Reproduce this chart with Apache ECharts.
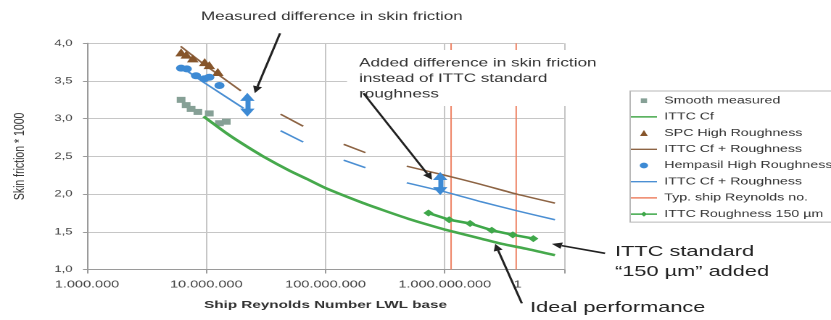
<!DOCTYPE html>
<html>
<head>
<meta charset="utf-8">
<title>Skin friction vs. ship Reynolds number</title>
<script src="https://cdn.jsdelivr.net/npm/echarts@6/dist/echarts.min.js"></script>
<style>
  html, body { margin: 0; padding: 0; background: #fff; overflow: hidden; }
  #stage { width: 831px; height: 320px; overflow: hidden; position: relative; }
  /* the chart is laid out narrow and widened horizontally */
  #chart { width: 573px; height: 320px; transform: scaleX(1.45026); transform-origin: 0 0; }
</style>
</head>
<body>
<div id="stage"><div id="chart"></div></div>
<script>
// ---- tick labels ----
const xTickLabels = ['1.000.000', '10.000.000', '100.000.000', '1.000.000.000', '10.000.000.000'];
const yTickLabels = ['1,0', '1,5', '2,0', '2,5', '3,0', '3,5', '4,0'];

// ---- series values: [Reynolds number, skin friction * 1000] ----
const smoothMeasured = [[6.15e6, 3.25], [6.78e6, 3.18], [7.46e6, 3.13], [8.5e6, 3.09], [1.06e7, 3.07], [1.29e7, 2.94], [1.47e7, 2.96]];
const ittcCf = [[9.5e6, 3.03], [1.5e7, 2.80], [2e7, 2.67], [3e7, 2.50], [5e7, 2.31], [7e7, 2.20], [1e8, 2.08],
                [2e8, 1.89], [3e8, 1.79], [5e8, 1.67], [7e8, 1.60], [1e9, 1.53], [2e9, 1.41], [3e9, 1.34],
                [5e9, 1.27], [8.4e9, 1.19]];
const spcHigh = [[6.15e6, 3.88], [6.8e6, 3.85], [7.7e6, 3.80], [9.7e6, 3.75], [1.06e7, 3.71], [1.25e7, 3.62]];
const spcFitSegments = [
  [[6.1e6, 3.96], [1e7, 3.70], [1.95e7, 3.37]],
  [[4.2e7, 3.06], [6.5e7, 2.90]],
  [[1.42e8, 2.66], [2.16e8, 2.55]],
  [[4.8e8, 2.37], [1e9, 2.25], [2e9, 2.13], [4e9, 2.00], [8.4e9, 1.88]]
];
const hempasilHigh = [[6.15e6, 3.67], [6.87e6, 3.66], [8.2e6, 3.57], [9.66e6, 3.53], [1.06e7, 3.55], [1.29e7, 3.44]];
const hempasilFitSegments = [
  [[6e6, 3.70], [1e7, 3.46], [2.05e7, 3.14]],
  [[4.2e7, 2.84], [6.5e7, 2.69]],
  [[1.42e8, 2.45], [2.16e8, 2.35]],
  [[4.8e8, 2.15], [1e9, 2.03], [2e9, 1.90], [4e9, 1.78], [8.4e9, 1.66]]
];
const shipReynolds = [1.13e9, 3.97e9];
const ittc150 = [[7.3e8, 1.75], [1.09e9, 1.66], [1.63e9, 1.61], [2.48e9, 1.52], [3.72e9, 1.46], [5.53e9, 1.41]];

// measured / added differences: [Reynolds number, upper, lower]
const measuredGap = [2.21e7, 3.29, 3.08];
const addedGap = [9.16e8, 2.24, 2.04];

const FONT = '"Liberation Sans", Arial, Helvetica, sans-serif';

// joins line pieces with an empty point so the line breaks between them
function gapped(segments) {
  const out = [];
  segments.forEach((seg, i) => {
    if (i > 0) out.push([seg[0][0], null]);
    seg.forEach(p => out.push(p));
  });
  return out;
}

const verticals = [];
shipReynolds.forEach((re, i) => {
  if (i > 0) verticals.push([re, null]);
  verticals.push([re, 1], [re, 4]);
});

// legend icons share a 20x10 frame (corner moves fix the frame)
const FRAME = 'M0 0M20 10';
const legendIcons = {
  square:   'path://' + FRAME + 'M7.6 2.4H12.4V7.6H7.6Z',
  triangle: 'path://' + FRAME + 'M10 1.6L13 8.2H7Z',
  circle:   'path://' + FRAME + 'M10 1.8A3.2 3.2 0 1 1 9.99 1.8Z',
  line:     'path://' + FRAME + 'M0 4.2H20V5.8H0Z',
  lineDiamond: 'path://' + FRAME + 'M0 4.2H20V5.8H0Z M10 2.2L12.4 5L10 7.8L7.6 5Z'
};

const chart = echarts.init(document.getElementById('chart'), null, { renderer: 'canvas', devicePixelRatio: 2 });

const gridColor = '#c6c6c6';
const axisColor = '#9a9a9a';

chart.setOption({
  animation: false,
  backgroundColor: '#fff',
  textStyle: { fontFamily: FONT },
  grid: { left: 59.3, right: 184.1, top: 43.3, bottom: 50.5 },
  xAxis: {
    type: 'log', logBase: 10, min: 1e6, max: 1e10,
    name: 'Ship Reynolds Number LWL base', nameLocation: 'middle', nameGap: 30,
    nameTextStyle: { fontFamily: FONT, fontWeight: 'bold', fontSize: 10.5, color: '#333' },
    axisLine: { show: true, lineStyle: { color: axisColor } },
    axisTick: { show: true, length: 4, lineStyle: { color: axisColor } },
    minorTick: { show: false },
    axisLabel: { fontFamily: FONT, fontSize: 10, color: '#444', margin: 10,
      formatter: v => xTickLabels[Math.round(Math.log10(v)) - 6] },
    splitLine: { show: true, lineStyle: { color: gridColor } }
  },
  yAxis: {
    type: 'value', min: 1, max: 4, interval: 0.5,
    name: 'Skin friction * 1000', nameLocation: 'middle', nameGap: 41, nameRotate: 90,
    nameTextStyle: { fontFamily: FONT, fontSize: 10.5, color: '#333' },
    axisLine: { show: true, lineStyle: { color: axisColor } },
    axisTick: { show: true, length: 2.8, lineStyle: { color: axisColor } },
    axisLabel: { fontFamily: FONT, fontSize: 9, color: '#444', margin: 10,
      formatter: v => yTickLabels[Math.round((v - 1) / 0.5)] },
    splitLine: { show: true, lineStyle: { color: gridColor } }
  },
  legend: {
    orient: 'vertical', left: 434.5, top: 91,
    padding: [3.7, 12, 2, 0.5],
    itemWidth: 18, itemHeight: 9, itemGap: 4.2,
    symbolKeepAspect: true,
    borderColor: '#b8b8b8', borderWidth: 1, backgroundColor: '#fff',
    textStyle: { fontFamily: FONT, fontSize: 9.8, lineHeight: 12, color: '#333' },
    formatter: name => name.trim(),
    data: [
      { name: 'Smooth measured', icon: legendIcons.square },
      { name: 'ITTC Cf', icon: legendIcons.line },
      { name: 'SPC High Roughness', icon: legendIcons.triangle },
      { name: 'ITTC Cf + Roughness', icon: legendIcons.line },
      { name: 'Hempasil High Roughness', icon: legendIcons.circle },
      { name: 'ITTC Cf + Roughness ', icon: legendIcons.line },
      { name: 'Typ. ship Reynolds no.', icon: legendIcons.line },
      { name: 'ITTC Roughness 150 µm', icon: legendIcons.lineDiamond }
    ]
  },
  series: [
    {
      name: 'Typ. ship Reynolds no.', type: 'line', data: verticals, symbol: 'none', z: 1,
      lineStyle: { color: '#ee8466', width: 1 }, itemStyle: { color: '#ee8466' }
    },
    {
      name: 'Smooth measured', type: 'scatter', data: smoothMeasured, symbol: 'rect', symbolSize: 6, z: 3,
      itemStyle: { color: '#86a096', opacity: 1 }
    },
    {
      name: 'ITTC Cf', type: 'line', data: ittcCf, symbol: 'none', smooth: 0.2, z: 4,
      lineStyle: { color: '#46a94c', width: 2.5 }, itemStyle: { color: '#46a94c' }
    },
    {
      name: 'SPC High Roughness', type: 'scatter', data: spcHigh, symbol: 'triangle', symbolSize: 8, z: 3,
      itemStyle: { color: '#86552b', opacity: 1 }
    },
    {
      name: 'ITTC Cf + Roughness', type: 'line', data: gapped(spcFitSegments), symbol: 'none',
      connectNulls: false, smooth: 0.2, z: 2,
      lineStyle: { color: '#8d6444', width: 1.5 }, itemStyle: { color: '#8d6444' }
    },
    {
      name: 'Hempasil High Roughness', type: 'scatter', data: hempasilHigh, symbol: 'circle', symbolSize: 7, z: 3,
      itemStyle: { color: '#3d8ad4', opacity: 1 }
    },
    {
      name: 'ITTC Cf + Roughness ', type: 'line', data: gapped(hempasilFitSegments), symbol: 'none',
      connectNulls: false, smooth: 0.2, z: 2,
      lineStyle: { color: '#4b8fd3', width: 1.5 }, itemStyle: { color: '#4b8fd3' },
      markLine: {
        silent: true, symbol: ['triangle', 'triangle'], symbolSize: [10, 8],
        label: { show: false },
        lineStyle: { color: '#3d8ad4', width: 3.5, type: 'solid' },
        emphasis: { disabled: true },
        data: [
          [{ coord: [measuredGap[0], measuredGap[1]] }, { coord: [measuredGap[0], measuredGap[2]] }],
          [{ coord: [addedGap[0], addedGap[1]] }, { coord: [addedGap[0], addedGap[2]] }]
        ]
      }
    },
    {
      name: 'ITTC Roughness 150 µm', type: 'line', data: ittc150, symbol: 'diamond', symbolSize: 7, z: 5,
      lineStyle: { color: '#3fa84a', width: 2.5 }, itemStyle: { color: '#3fa84a' }
    }
  ]
});

// ---- annotations ----
const toPx = p => chart.convertToPixel({ xAxisIndex: 0, yAxisIndex: 0 }, p);

function arrow(tail, tipData) {
  const tip = toPx(tipData);
  const dx = tip[0] - tail[0], dy = tip[1] - tail[1];
  const len = Math.sqrt(dx * dx + dy * dy);
  const ux = dx / len, uy = dy / len;
  const L = 7, W = 3.2;
  const bx = tip[0] - ux * L, by = tip[1] - uy * L;
  return [
    { type: 'line', z: 110, silent: true,
      shape: { x1: tail[0], y1: tail[1], x2: bx, y2: by },
      style: { stroke: '#222', lineWidth: 1.6 } },
    { type: 'polygon', z: 110, silent: true,
      shape: { points: [[tip[0], tip[1]], [bx - uy * W, by + ux * W], [bx + uy * W, by - ux * W]] },
      style: { fill: '#222' } }
  ];
}

const textBase = { fontFamily: FONT };
chart.setOption({
  graphic: [
    { type: 'text', z: 100, silent: true,
      style: Object.assign({ text: 'Measured difference in skin friction', x: 228.8, y: 17,
        align: 'center', verticalAlign: 'middle', fontSize: 11.7, fill: '#333' }, textBase) },
    { type: 'rect', z: 99, silent: true, shape: { x: 239.3, y: 50, width: 182, height: 56 }, style: { fill: '#fff' } },
    { type: 'text', z: 100, silent: true,
      style: Object.assign({ text: 'Added difference in skin friction\ninstead of ITTC standard\nroughness',
        x: 247.6, y: 55.5, verticalAlign: 'top', fontSize: 11.8, lineHeight: 15.5, fill: '#333' }, textBase) },
    { type: 'text', z: 100, silent: true,
      style: Object.assign({ text: 'ITTC standard\n\u201C150 \u00B5m\u201D added', x: 424.1, y: 241.7,
        verticalAlign: 'top', fontSize: 15, lineHeight: 20, fill: '#222' }, textBase) },
    { type: 'rect', z: 99, silent: true, shape: { x: 359.5, y: 277, width: 150, height: 43 }, style: { fill: '#fff' } },
    { type: 'text', z: 100, silent: true,
      style: Object.assign({ text: 'Ideal performance', x: 365.5, y: 308,
        verticalAlign: 'middle', fontSize: 15, fill: '#222' }, textBase) }
  ].concat(
    arrow([193.1, 33.3], [2.55e7, 3.34]),
    arrow([250.6, 93.3], [7.82e8, 2.19]),
    arrow([417.2, 253.3], [7.9e9, 1.34]),
    arrow([359.8, 303.3], [2.65e9, 1.34])
  )
});
</script>
</body>
</html>
